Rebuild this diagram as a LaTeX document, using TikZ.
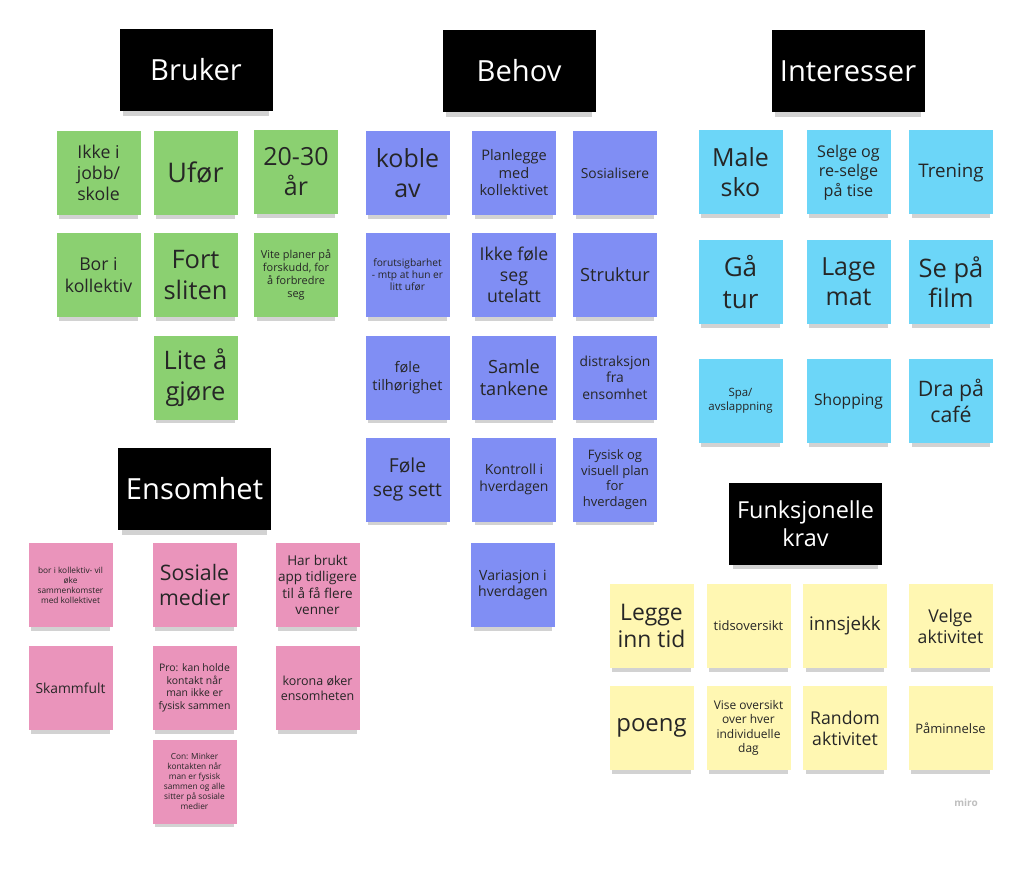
\documentclass[tikz,border=0pt]{standalone}
\usepackage{fontspec}
\setmainfont{Open Sans}
\usetikzlibrary{shadows}

\definecolor{lappgronn}{HTML}{8BD071}
\definecolor{lappblaa}{HTML}{808EF4}
\definecolor{lappturkis}{HTML}{6CD6F8}
\definecolor{lapprosa}{HTML}{EA94BB}
\definecolor{lappgul}{HTML}{FFF7B2}

\tikzset{
	lapp/.style={minimum width=84pt, minimum height=84pt, inner sep=1pt,
		align=center, text=black!85,
		drop shadow={shadow xshift=0pt, shadow yshift=-7pt, shadow scale=.93, opacity=.35}},
	overskrift/.style={fill=black, text=white, minimum width=153pt, minimum height=82pt,
		align=center, inner sep=2pt,
		drop shadow={shadow xshift=0pt, shadow yshift=-7pt, shadow scale=.95, opacity=.35}},
	skrift/.style={font=\fontsize{\the\dimexpr #1pt*104/100\relax}{\the\dimexpr #1pt*125/100\relax}\selectfont},
	bruker/.style={lapp, fill=lappgronn},
	behov/.style={lapp, fill=lappblaa},
	interesse/.style={lapp, fill=lappturkis},
	ensom/.style={lapp, fill=lapprosa},
	krav/.style={lapp, fill=lappgul}
}

\begin{document}
\begin{tikzpicture}[x=1pt, y=-1pt]
				%\draw[help lines] (0,0) grid (1023,869);
				\useasboundingbox (0,0) rectangle (1023,869);
				\fill[white] (0,0) rectangle (1023,869);
				
				% overskrifter
				\node[overskrift, skrift=28] (hBruker) at (196,70) {Bruker};
				\node[overskrift, skrift=28] (hBehov) at (519,71) {Behov};
				\node[overskrift, skrift=28] (hInteresser) at (848,71) {Interesser};
				\node[overskrift, skrift=28] (hEnsomhet) at (194.5,489) {Ensomhet};
				\node[overskrift, skrift=22.5] (hKrav) at (805.5,523.5) {Funksjonelle\\krav};
				
				% Bruker
				\node[bruker, skrift=17] (g11) at (98.5,173) {Ikke i\\jobb/\\skole};
				\node[bruker, skrift=26] (g12) at (195.5,173) {Ufør};
				\node[bruker, skrift=24] (g13) at (296,172) {20-30\\år};
				\node[bruker, skrift=17] (g21) at (98.5,275) {Bor i\\kollektiv};
				\node[bruker, skrift=24.5] (g22) at (195.5,275) {Fort\\sliten};
				\node[bruker, skrift=10.5] (g23) at (296,275) {Vite planer på\\forskudd, for\\å forbredre\\seg};
				\node[bruker, skrift=24.5] (g32) at (195.5,377.5) {Lite å\\gjøre};
				
				% Behov
				\node[behov, skrift=24] (b11) at (407.5,173) {koble\\av};
				\node[behov, skrift=14] (b12) at (514,173) {Planlegge\\med\\kollektivet};
				\node[behov, skrift=13.3] (b13) at (615,173) {Sosialisere};
				\node[behov, skrift=9.8] (b21) at (407.5,275) {forutsigbarhet\\- mtp at hun er\\litt ufør};
				\node[behov, skrift=17] (b22) at (514,275) {Ikke føle\\seg\\utelatt};
				\node[behov, skrift=17.5] (b23) at (615,275) {Struktur};
				\node[behov, skrift=14] (b31) at (407.5,377.5) {føle\\tilhørighet};
				\node[behov, skrift=17.5] (b32) at (514,377.5) {Samle\\tankene};
				\node[behov, skrift=13.3] (b33) at (615,377.5) {distraksjon\\fra\\ensomhet};
				\node[behov, skrift=18.5] (b41) at (407.5,479.5) {Føle\\seg sett};
				\node[behov, skrift=13.4] (b42) at (514,479.5) {Kontroll i\\hverdagen};
				\node[behov, skrift=12.5] (b43) at (615,479.5) {Fysisk og\\visuell plan\\for\\hverdagen};
				\node[behov, skrift=13.5] (b52) at (513,585) {Variasjon i\\hverdagen};
				
				% Interesser
				\node[interesse, skrift=24] (c11) at (740.5,172.5) {Male\\sko};
				\node[interesse, skrift=15.5] (c12) at (848.5,172.5) {Selge og\\re-selge\\på tise};
				\node[interesse, skrift=18] (c13) at (951,172.5) {Trening};
				\node[interesse, skrift=25] (c21) at (740.5,282) {Gå\\tur};
				\node[interesse, skrift=24] (c22) at (848.5,282) {Lage\\mat};
				\node[interesse, skrift=24.5] (c23) at (951,282) {Se på\\film};
				\node[interesse, skrift=11] (c31) at (740.5,401) {Spa/\\avslappning};
				\node[interesse, skrift=15] (c32) at (848.5,401) {Shopping};
				\node[interesse, skrift=20.5] (c33) at (951,401) {Dra på\\café};
				
				% Ensomhet
				\node[ensom, skrift=8] (p11) at (70.5,585) {bor i kollektiv- vil\\øke\\sammenkomster\\med kollektivet};
				\node[ensom, skrift=20.5] (p12) at (194.5,585) {Sosiale\\medier};
				\node[ensom, skrift=13] (p13) at (317.5,585) {Har brukt\\app tidligere\\til å få flere\\venner};
				\node[ensom, skrift=13.3] (p21) at (70.5,688) {Skammfult};
				\node[ensom, skrift=10] (p22) at (194.5,688) {Pro: kan holde\\kontakt når\\man ikke er\\fysisk sammen};
				\node[ensom, skrift=12] (p23) at (317.5,688) {korona øker\\ensomheten};
				\node[ensom, skrift=8] (p32) at (194.5,781.5) {Con: Minker\\kontakten når\\man er fysisk\\sammen og alle\\sitter på sosiale\\medier};
				
				% Funksjonelle krav
				\node[krav, skrift=22] (y11) at (651.5,626) {Legge\\inn tid};
				\node[krav, skrift=12.5] (y12) at (748.5,626) {tidsoversikt};
				\node[krav, skrift=18] (y13) at (845,626) {innsjekk};
				\node[krav, skrift=17] (y14) at (950.5,626) {Velge\\aktivitet};
				\node[krav, skrift=23] (y21) at (651.5,728) {poeng};
				\node[krav, skrift=11.5] (y22) at (748.5,728) {Vise oversikt\\over hver\\individuelle\\dag};
				\node[krav, skrift=17] (y23) at (845,728) {Random\\aktivitet};
				\node[krav, skrift=12.5] (y24) at (950.5,728) {Påminnelse};
				
				\node[text=black!25, skrift=14, font=\bfseries] (miro) at (966,803) {miro};
			\end{tikzpicture}
\end{document}
